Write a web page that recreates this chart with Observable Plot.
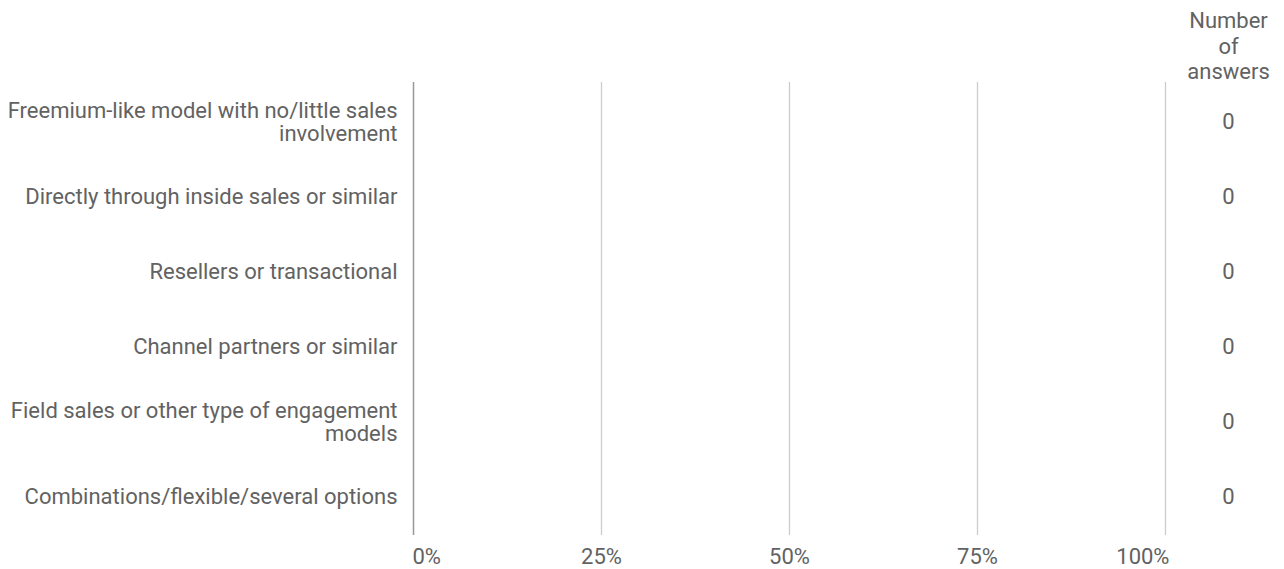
<!DOCTYPE html>
<html>
<head>
<meta charset="utf-8">
<script src="https://cdn.jsdelivr.net/npm/d3@7"></script>
<script src="https://cdn.jsdelivr.net/npm/@observablehq/plot@0.6"></script>
<style>
  html, body { margin: 0; padding: 0; background: #fff; }
  #chart svg { display: block; }
</style>
</head>
<body>
<div id="chart"></div>
<script>
const categories = [
  "Freemium-like model with no/little sales\ninvolvement",
  "Directly through inside sales or similar",
  "Resellers or transactional",
  "Channel partners or similar",
  "Field sales or other type of engagement\nmodels",
  "Combinations/flexible/several options"
];
const shares = [0, 0, 0, 0, 0, 0];
const answers = [0, 0, 0, 0, 0, 0];
const ticks = [0, 0.25, 0.5, 0.75, 1];
const tickLabels = ["0%", "25%", "50%", "75%", "100%"];
const countHeader = "Number\nof\nanswers";

const rows = categories.map((c, i) => ({category: c, share: shares[i], answers: answers[i]}));
const tickRows = ticks.map((t, i) => ({t, label: tickLabels[i]}));

const textColor = "#626262";

const chart = Plot.plot({
  width: 1284,
  height: 569,
  marginLeft: 413,
  marginRight: 119,
  marginTop: 82,
  marginBottom: 34,
  x: {domain: [0, 1], axis: null},
  y: {domain: categories, axis: null, padding: 0},
  style: {fontFamily: "Roboto", fontSize: "22px", color: textColor, background: "#fff"},
  marks: [
    Plot.ruleX(ticks.slice(1), {stroke: "#ccc", strokeWidth: 1.3}),
    Plot.barX(rows, {x: "share", y: "category", fill: "#4285f4", insetTop: 18, insetBottom: 18}),
    Plot.ruleX([0], {stroke: "#999", strokeWidth: 1.5}),
    Plot.text(rows, {y: "category", text: "category", frameAnchor: "left", dx: -16, textAnchor: "end", lineAnchor: "middle", lineHeight: 1.05, fill: textColor}),
    Plot.text(rows, {y: "category", text: d => String(d.answers), frameAnchor: "right", dx: 63, textAnchor: "middle", lineAnchor: "middle", fill: textColor}),
    Plot.text([countHeader], {text: d => d, frameAnchor: "top-right", dx: 63, dy: -37, textAnchor: "middle", lineAnchor: "middle", lineHeight: 1.16, fill: textColor}),
    Plot.text(tickRows.slice(0, 1), {x: "t", text: "label", frameAnchor: "bottom", dy: 21, dx: -1, textAnchor: "start", lineAnchor: "middle", fill: textColor}),
    Plot.text(tickRows.slice(1, -1), {x: "t", text: "label", frameAnchor: "bottom", dy: 21, textAnchor: "middle", lineAnchor: "middle", fill: textColor}),
    Plot.text(tickRows.slice(-1), {x: "t", text: "label", frameAnchor: "bottom", dy: 21, textAnchor: "end", dx: 4, lineAnchor: "middle", fill: textColor})
  ]
});
document.getElementById("chart").appendChild(chart);
</script>
</body>
</html>
